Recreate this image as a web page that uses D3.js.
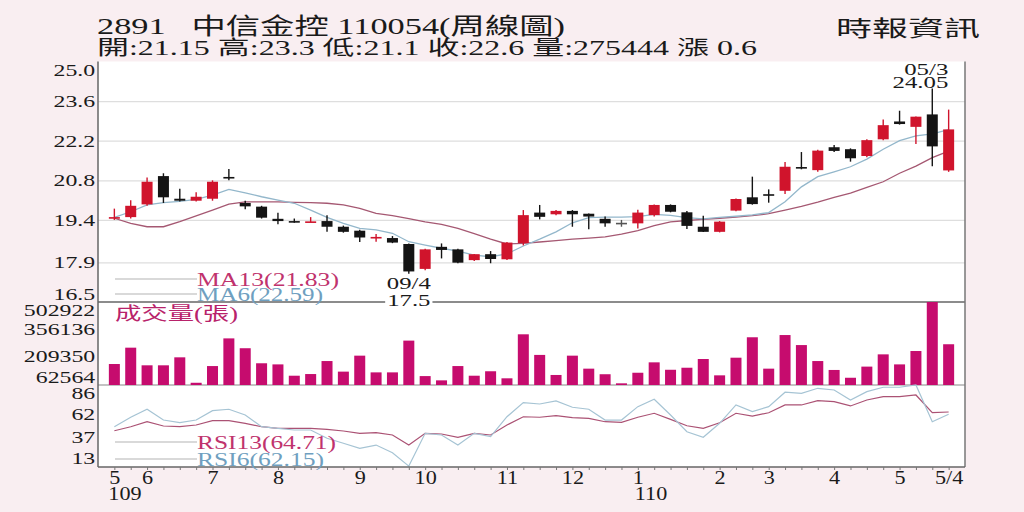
<!DOCTYPE html>
<html>
<head>
<meta charset="utf-8">
<script src="https://cdn.jsdelivr.net/npm/d3@7"></script>
<style>
  html, body { margin: 0; padding: 0; background: #f9eef1; }
  svg { display: block; }
  text { font-family: "Liberation Serif", "Noto Sans CJK TC", serif; white-space: pre; }
</style>
</head>
<body>
<svg id="chart"></svg>
<script>
// weekly OHLC, 109/5 .. 110/5 (week 4)
const openP  = [19.45, 19.5, 19.95, 20.95, 20.15, 20.08, 20.15, 20.92, 20.0, 19.87, 19.44, 19.36, 19.32, 19.36, 19.16, 19.02, 18.77, 18.76, 18.55, 17.67, 18.45, 18.36, 17.98, 18.19, 18.01, 18.58, 19.66, 19.6, 19.72, 19.62, 19.44, 19.3, 19.28, 19.57, 19.93, 19.67, 19.16, 18.98, 19.73, 20.2, 20.31, 20.43, 21.27, 21.16, 21.97, 21.9, 21.66, 22.25, 22.88, 22.69, 23.13, 21.15];
const highP  = [19.8, 20.1, 20.9, 21.05, 20.5, 20.38, 20.8, 21.2, 20.08, 19.9, 19.65, 19.45, 19.5, 19.57, 19.2, 19.05, 18.9, 18.83, 18.57, 18.38, 18.57, 18.38, 18.2, 18.3, 18.62, 19.75, 19.93, 19.75, 19.75, 19.63, 19.52, 19.4, 19.76, 19.95, 19.95, 19.72, 19.55, 19.36, 20.16, 20.93, 20.48, 21.45, 21.8, 21.88, 22.05, 21.93, 22.25, 22.95, 23.26, 23.06, 24.05, 23.3];
const lowP   = [19.4, 19.45, 19.9, 20.0, 20.05, 20.05, 20.08, 20.8, 19.78, 19.45, 19.25, 19.3, 19.32, 18.98, 18.95, 18.62, 18.63, 18.58, 17.5, 17.62, 18.04, 17.87, 17.95, 17.87, 17.98, 18.5, 19.42, 19.57, 19.16, 19.07, 19.16, 19.16, 19.1, 19.52, 19.67, 19.08, 18.97, 18.96, 19.71, 19.94, 20.01, 20.32, 21.19, 21.1, 21.8, 21.46, 21.62, 22.22, 22.77, 22.08, 21.3, 21.1];
const closeP = [19.5, 19.9, 20.75, 20.2, 20.08, 20.22, 20.75, 20.9, 19.88, 19.48, 19.36, 19.32, 19.35, 19.16, 18.98, 18.78, 18.8, 18.6, 17.58, 18.36, 18.34, 17.89, 18.19, 18.02, 18.6, 19.57, 19.51, 19.72, 19.6, 19.52, 19.28, 19.3, 19.66, 19.93, 19.69, 19.19, 18.98, 19.34, 20.14, 19.96, 20.3, 21.28, 21.26, 21.85, 21.84, 21.58, 22.22, 22.75, 22.79, 23.05, 22.0, 22.6];
const volume = [169000, 257000, 162000, 162000, 205000, 68000, 158000, 307000, 254000, 173000, 167000, 106000, 115000, 185000, 128000, 214000, 124000, 124000, 295000, 104000, 81000, 158000, 106000, 130000, 92000, 329000, 218000, 110000, 214000, 144000, 114000, 65000, 122000, 178000, 138000, 149000, 196000, 108000, 203000, 313000, 144000, 325000, 271000, 185000, 137000, 95000, 155000, 221000, 167000, 239000, 502922, 275444];
const ma6  = [19.49, 19.69, 19.93, 20.01, 20.06, 20.13, 20.28, 20.48, 20.36, 20.22, 20.1, 19.99, 19.75, 19.49, 19.28, 19.1, 19.05, 18.93, 18.63, 18.51, 18.4, 18.3, 18.16, 18.1, 18.2, 18.48, 18.72, 18.98, 19.3, 19.48, 19.5, 19.5, 19.52, 19.6, 19.56, 19.48, 19.44, 19.49, 19.53, 19.58, 19.66, 20.04, 20.57, 20.93, 21.1, 21.28, 21.55, 21.9, 22.2, 22.37, 22.44, 22.59];
const ma13 = [19.46, 19.28, 19.16, 19.16, 19.34, 19.54, 19.75, 19.96, 20.04, 20.04, 20.04, 20.02, 20.01, 19.99, 19.93, 19.81, 19.63, 19.55, 19.45, 19.33, 19.24, 19.1, 18.92, 18.72, 18.55, 18.57, 18.62, 18.67, 18.72, 18.76, 18.8, 18.9, 19.02, 19.2, 19.33, 19.38, 19.42, 19.46, 19.5, 19.55, 19.62, 19.75, 19.88, 20.03, 20.2, 20.35, 20.55, 20.75, 21.05, 21.3, 21.6, 21.83];
const rsi6  = [48.2, 58.8, 67.8, 55.7, 52.7, 55.7, 66.2, 67.8, 61.3, 48.2, 46.4, 44.5, 44.5, 35.2, 29.6, 23.9, 27.6, 19, 4, 40.8, 38.9, 27.6, 40.8, 37, 59.4, 75.2, 73.7, 77.1, 70, 67.8, 55.7, 55.7, 70.7, 79, 61.3, 42.6, 36.3, 52, 72.6, 65.1, 70.7, 86.9, 85.7, 91.3, 89.4, 78.2, 87.5, 92.5, 92.5, 95, 53.8, 62.15];
const rsi13 = [43.7, 48.2, 53.8, 49, 48.2, 50.1, 55, 55, 52, 48.2, 46.4, 46.4, 46.4, 45.3, 43.4, 40.8, 41.5, 38.9, 27.6, 40.8, 40, 36.3, 40.8, 38.9, 50.1, 59.4, 58.8, 60.6, 58.3, 57.6, 53.8, 53.1, 58.8, 63.3, 56.5, 49.3, 46.4, 52.7, 63.3, 60.2, 63.9, 72.6, 72.6, 77.4, 76.3, 71.5, 78.2, 81.9, 81.9, 83.8, 63.9, 64.71];

// axis ticks
const priceTicks = [25.0, 23.6, 22.2, 20.8, 19.4, 17.9, 16.5];
const volTicks = [502922, 356136, 209350, 62564];
const rsiTicks = [86, 62, 37, 13];
const monthIdx = [0, 2, 6, 10, 15, 19, 24, 28, 32, 37, 40, 44, 48, 51];
const monthLabels = ["5", "6", "7", "8", "9", "10", "11", "12", "1", "2", "3", "4", "5", "5/4"];
const yearIdx = [0, 32];
const yearLabels = ["109", "110"];

const stockTitle = "2891   中信金控 110054(周線圖)";
const sourceLabel = "時報資訊";
const lowWeek = "09/4";
const highWeek = "05/3";

class WeeklyKChart {
    constructor(_config) {
        this.config = {
            parentElement: _config.parentElement,
            containerWidth: _config.containerWidth || 1024,
            containerHeight: _config.containerHeight || 512,
            left: 98, right: 965,
            priceTop: 61.5, priceBottom: 302,
            volBottom: 385, rsiBottom: 467
        };
        this.initVis();
    }

    initVis() {
        let vis = this;
        const c = vis.config;

        vis.svg = d3.select(c.parentElement)
            .attr('width', c.containerWidth)
            .attr('height', c.containerHeight);

        vis.svg.append('rect')
            .attr('width', c.containerWidth).attr('height', c.containerHeight)
            .attr('fill', '#f9eef1');
        vis.svg.append('rect')
            .attr('x', c.left).attr('y', c.priceTop)
            .attr('width', c.right - c.left).attr('height', c.rsiBottom - c.priceTop)
            .attr('fill', '#fff');

        vis.n = closeP.length;
        vis.xScale = d3.scalePoint()
            .domain(d3.range(vis.n))
            .range([c.left, c.right])
            .padding(1);
        vis.yPrice = d3.scaleLinear().domain([16.5, 25]).range([c.priceBottom, c.priceTop]);
        vis.yVol = d3.scaleLinear().domain([56000, 502922]).range([c.volBottom, c.priceBottom]);
        vis.yRsi = d3.scaleLinear().domain([3, 95]).range([c.rsiBottom, c.volBottom]);

        vis.renderVis();
    }

    // text squeezed/stretched horizontally, like the scanned newspaper chart
    stretchText(g, x, y, str, size, sx, anchor, color) {
        return g.append('text')
            .attr('transform', `translate(${x},${y}) scale(${sx},1)`)
            .attr('text-anchor', anchor || 'start')
            .attr('fill', color || '#1a1a1a')
            .style('font-size', size + 'px')
            .text(str);
    }

    fitText(g, x, y, str, size, width, color) {
        return g.append('text')
            .attr('x', x).attr('y', y)
            .attr('textLength', width)
            .attr('lengthAdjust', 'spacingAndGlyphs')
            .attr('fill', color || '#1a1a1a')
            .style('font-size', size + 'px')
            .text(str);
    }

    leftAxis(scale, ticks, fmt, top, bottom) {
        let vis = this;
        const g = vis.svg.append('g')
            .attr('transform', `translate(${vis.config.left},0)`)
            .call(d3.axisLeft(scale).tickValues(ticks).tickSize(0).tickPadding(3).tickFormat(fmt));
        g.select('.domain').attr('stroke', '#666').attr('stroke-width', 1.5);
        g.selectAll('text')
            .attr('fill', '#1a1a1a')
            .style('font-size', '17px')
            .attr('transform', 'scale(1.4,1)')
            .attr('x', -2)
            .attr('y', d => Math.max(top + 8.5, Math.min(bottom - 7.5, scale(d))) - scale(d));
        return g;
    }

    renderVis() {
        let vis = this;
        const c = vis.config;
        const x = vis.xScale, yP = vis.yPrice, yV = vis.yVol, yR = vis.yRsi;
        const last = vis.n - 1;

        // price gridlines
        const grid = vis.svg.append('g')
            .attr('transform', `translate(${c.left},0)`)
            .call(d3.axisLeft(yP).tickValues(priceTicks.slice(1, -1)).tickSize(-(c.right - c.left)).tickFormat(''));
        grid.select('.domain').remove();
        grid.selectAll('line').attr('stroke', '#dedede').attr('stroke-width', 1.2);

        // panel frames
        vis.svg.append('line')
            .attr('x1', c.left).attr('x2', c.right).attr('y1', c.priceBottom).attr('y2', c.priceBottom)
            .attr('stroke', '#666').attr('stroke-width', 1.3);
        vis.svg.append('line')
            .attr('x1', c.left).attr('x2', c.right).attr('y1', c.volBottom).attr('y2', c.volBottom)
            .attr('stroke', '#888').attr('stroke-width', 1.2);
        vis.svg.append('line')
            .attr('x1', c.right).attr('x2', c.right).attr('y1', c.priceTop).attr('y2', c.rsiBottom)
            .attr('stroke', '#777').attr('stroke-width', 1.5);

        // moving averages
        const maLine = d3.line().x((d, i) => x(i)).y(d => yP(d));
        vis.svg.append('path').datum(ma13).attr('d', maLine)
            .attr('fill', 'none').attr('stroke', '#a55872').attr('stroke-width', 1.3);
        vis.svg.append('path').datum(ma6).attr('d', maLine)
            .attr('fill', 'none').attr('stroke', '#93b7cb').attr('stroke-width', 1.3);

        // candles
        const candleColor = i => closeP[i] > openP[i] ? '#d0142c' : (closeP[i] < openP[i] ? '#141414' : '#555');
        const candles = vis.svg.append('g').selectAll('g')
            .data(d3.range(vis.n))
            .join('g');
        candles.append('line')
            .attr('x1', i => x(i)).attr('x2', i => x(i))
            .attr('y1', i => yP(highP[i])).attr('y2', i => yP(lowP[i]))
            .attr('stroke', candleColor).attr('stroke-width', 1.4);
        candles.append('rect')
            .attr('x', i => x(i) - 5.5)
            .attr('width', 11)
            .attr('y', i => yP(Math.max(openP[i], closeP[i])))
            .attr('height', i => Math.max(1.6, Math.abs(yP(openP[i]) - yP(closeP[i]))))
            .attr('fill', candleColor);

        // volume bars
        vis.svg.append('g').selectAll('rect')
            .data(volume)
            .join('rect')
            .attr('x', (d, i) => x(i) - 5.5)
            .attr('width', 11)
            .attr('y', d => Math.min(yV(d), c.volBottom - 1.5))
            .attr('height', d => Math.max(1.5, c.volBottom - yV(d)))
            .attr('fill', '#c60c6e');

        // RSI
        const rsiLine = d3.line().x((d, i) => x(i)).y(d => yR(d));
        vis.svg.append('path').datum(rsi13).attr('d', rsiLine)
            .attr('fill', 'none').attr('stroke', '#ab5274').attr('stroke-width', 1.2);
        vis.svg.append('path').datum(rsi6).attr('d', rsiLine)
            .attr('fill', 'none').attr('stroke', '#a6c4d4').attr('stroke-width', 1.2);

        // y axes
        vis.leftAxis(yP, priceTicks, d3.format('.1f'), c.priceTop, c.priceBottom)
            .select('.domain').attr('d', `M0,${c.priceTop}V${c.rsiBottom}`);
        vis.leftAxis(yV, volTicks, d3.format('d'), c.priceBottom, c.volBottom).select('.domain').remove();
        vis.leftAxis(yR, rsiTicks, d3.format('d'), c.volBottom, c.rsiBottom).select('.domain').remove();

        // x axis: weekly ticks + month labels
        const weekAxis = vis.svg.append('g')
            .attr('transform', `translate(0,${c.rsiBottom})`)
            .call(d3.axisBottom(x).tickValues(d3.range(vis.n)).tickSize(3).tickFormat(''));
        weekAxis.select('.domain').attr('d', `M${c.left},0H${c.right}`).attr('stroke', '#666').attr('stroke-width', 1.5);
        weekAxis.selectAll('line').attr('stroke', '#777');

        const monthAxis = vis.svg.append('g')
            .attr('transform', `translate(0,${c.rsiBottom})`)
            .call(d3.axisBottom(x).tickValues(monthIdx).tickSize(0).tickPadding(0).tickFormat((d, i) => monthLabels[i]));
        monthAxis.select('.domain').remove();
        monthAxis.selectAll('text')
            .attr('fill', '#1a1a1a')
            .style('font-size', '18.5px')
            .attr('dy', null)
            .attr('y', 17)
            .attr('transform', 'scale(1.2,1)');

        const txt = vis.svg.append('g');
        yearIdx.forEach((d, i) => {
            vis.stretchText(txt, x(d) - (i === 0 ? 6 : 3), 500, yearLabels[i], 18.5, 1.2, 'start');
        });

        // header
        const lo = last, prev = closeP[last - 1];
        const info = `開:${openP[lo]} 高:${highP[lo]} 低:${lowP[lo]} 收:${closeP[lo]} 量:${volume[lo]} 漲 ${(closeP[lo] - prev).toFixed(1)}`;
        vis.fitText(txt, 97, 34, stockTitle, 23, 468);
        vis.fitText(txt, 97, 55, info, 20.5, 660);
        vis.fitText(txt, 836, 35.5, sourceLabel, 22, 144);

        // extremes
        const hiI = d3.maxIndex(highP), loI = d3.minIndex(lowP);
        vis.stretchText(txt, x(hiI) + 16, 74.5, highWeek, 16, 1.55, 'end');
        vis.stretchText(txt, x(hiI) + 16, 88, String(highP[hiI]), 16, 1.55, 'end');
        vis.stretchText(txt, x(loI), 289, lowWeek, 16.5, 1.5, 'middle');
        const lowVal = vis.stretchText(txt, x(loI), 305.5, String(lowP[loI]), 16.5, 1.5, 'middle');
        const bb = lowVal.node().getBBox();
        txt.insert('rect', () => lowVal.node())
            .attr('x', x(loI) - bb.width * 1.5 / 2 - 2).attr('y', 300)
            .attr('width', bb.width * 1.5 + 4).attr('height', 6)
            .attr('fill', '#fff');

        // legends
        const legend = (y, label, width, color) => {
            txt.append('line')
                .attr('x1', 115).attr('x2', 197).attr('y1', y).attr('y2', y)
                .attr('stroke', '#b4b4b4').attr('stroke-width', 1.2);
            vis.fitText(txt, 197, y + 7, label, 19, width, color);
        };
        legend(279, `MA13(${ma13[last].toFixed(2)})`, 142, '#c0336d');
        legend(294, `MA6(${ma6[last].toFixed(2)})`, 126, '#6f9fc0');
        legend(442, `RSI13(${rsi13[last].toFixed(2)})`, 139, '#c0336d');
        legend(459, `RSI6(${rsi6[last].toFixed(2)})`, 127, '#6f9fc0');

        vis.fitText(txt, 115, 320, '成交量(張)', 18, 123, '#b8226a');
    }
}

new WeeklyKChart({ parentElement: '#chart' });
</script>
</body>
</html>
